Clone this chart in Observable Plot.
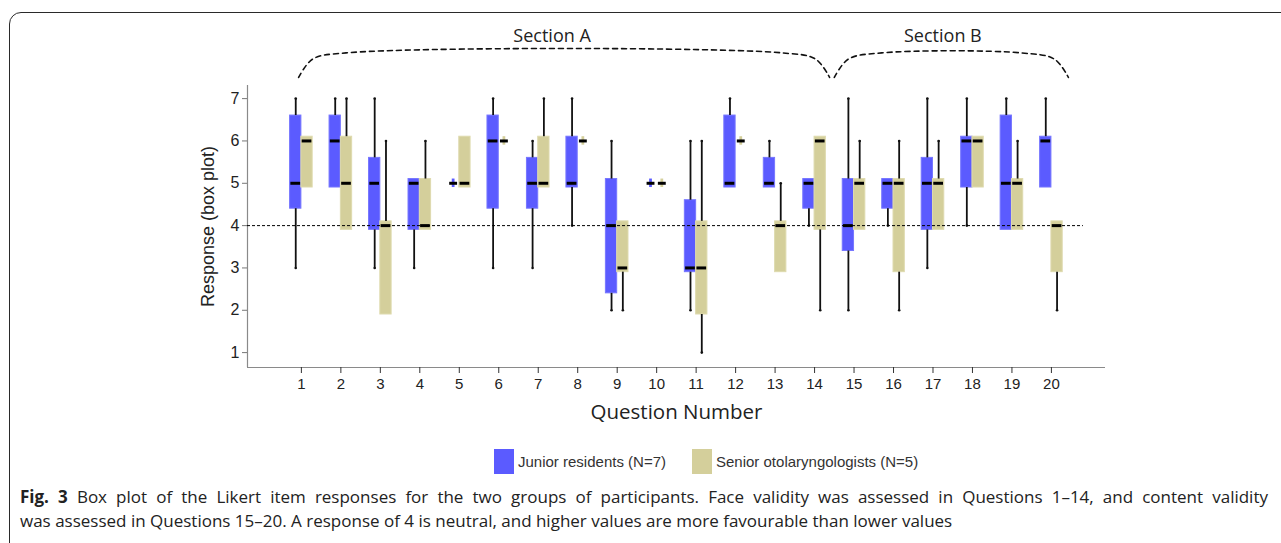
<!DOCTYPE html>
<html>
<head>
<meta charset="utf-8">
<script src="https://cdn.jsdelivr.net/npm/d3@7"></script>
<script src="https://cdn.jsdelivr.net/npm/@observablehq/plot@0.6"></script>
<style>
  html, body { margin: 0; padding: 0; background: #fff; width: 1281px; height: 543px; overflow: hidden; }
  #card { position: absolute; left: 9px; top: 12px; width: 1320px; height: 620px; border: 1.5px solid #2a2a2a; border-radius: 12px; box-sizing: border-box; }
  #chart { position: absolute; left: 0; top: 0; }
  .legend { position: absolute; top: 449px; font-family: "Liberation Sans", Arial, sans-serif; font-size: 15px; color: #333; display: flex; align-items: center; }
  .sw { width: 20px; height: 25px; margin-right: 4px; }
  .cap { position: absolute; left: 20px; font-family: "Open Sans", sans-serif; font-size: 17px; line-height: 23px; color: #222; white-space: nowrap; }
  #cap1 { width: 1248px; text-align: justify; text-align-last: justify; white-space: normal; }
</style>
</head>
<body>
<div id="card"></div>
<div id="chart"></div>
<div class="legend" style="left:494px"><div class="sw" style="background:#5b5bff"></div><span id="lj"></span></div>
<div class="legend" style="left:692px"><div class="sw" style="background:#d4cf9b"></div><span id="ls"></span></div>
<div class="cap" id="cap1" style="top:485px"></div>
<div class="cap" id="cap2" style="top:509px"></div>
<script>
// ---- data ----
const questions = [1,2,3,4,5,6,7,8,9,10,11,12,13,14,15,16,17,18,19,20];
const groups = ["Junior residents (N=7)", "Senior otolaryngologists (N=5)"];
const groupColors = ["#5b5bff", "#d4cf9b"];

const juniorMin = [3,5,3,3,5,3,3,4,2,5,2,5,5,4,2,4,3,4,4,5];
const juniorQ1  = [4.5,5,4,4,5,4.5,4.5,5,2.5,5,3,5,5,4.5,3.5,4.5,4,5,4,5];
const juniorMed = [5,6,5,5,5,6,5,5,4,5,3,5,5,5,4,5,5,6,5,6];
const juniorQ3  = [6.5,6.5,5.5,5,5,6.5,5.5,6,5,5,4.5,6.5,5.5,5,5,5,5.5,6,6.5,6];
const juniorMax = [7,7,7,5,5,7,6,7,6,5,6,7,6,5,7,5,7,7,7,7];

const seniorMin = [5,4,2,4,5,6,5,6,2,5,1,6,3,2,4,2,4,5,4,2];
const seniorQ1  = [5,4,2,4,5,6,5,6,3,5,2,6,3,4,4,3,4,5,4,3];
const seniorMed = [6,5,4,4,5,6,5,6,3,5,3,6,4,6,5,5,5,6,5,4];
const seniorQ3  = [6,6,4,5,6,6,6,6,4,5,4,6,4,6,5,5,5,6,5,4];
const seniorMax = [6,7,6,6,6,6,7,6,4,5,6,6,5,6,6,6,6,6,6,4];

const yTicks = [1,2,3,4,5,6,7];
const neutral = 4;
const sections = [
  {label: "Section A", from: 0.93, to: 14.38, labelX: 7.35},
  {label: "Section B", from: 14.5, to: 20.43, labelX: 17.25}
];
const captionLine1 = "Box plot of the Likert item responses for the two groups of participants. Face validity was assessed in Questions 1\u201314, and content validity";
const captionLine2 = "was assessed in Questions 15\u201320. A response of 4 is neutral, and higher values are more favourable than lower values";

// ---- build table ----
const half = 0.286;   // box width in question units
const pad = 0.1;      // box drawn slightly beyond quartiles (as in the original)
const rows = [];
questions.forEach((q, i) => {
  rows.push({q, g: 0, min: juniorMin[i], q1: juniorQ1[i], med: juniorMed[i], q3: juniorQ3[i], max: juniorMax[i]});
  rows.push({q, g: 1, min: seniorMin[i], q1: seniorQ1[i], med: seniorMed[i], q3: seniorQ3[i], max: seniorMax[i]});
});
rows.forEach(d => {
  d.x1 = d.g === 0 ? d.q - half : d.q;
  d.x2 = d.g === 0 ? d.q : d.q + half;
  d.cx = (d.x1 + d.x2) / 2;
  d.deg = d.q1 === d.q3;
  d.top = d.deg ? d.med + pad : d.q3 + pad;
  d.bot = d.deg ? d.med - pad : d.q1 - pad;
  d.color = groupColors[d.g];
});
const boxes = rows.filter(d => !d.deg);
const degs = rows.filter(d => d.deg);
const upper = rows.filter(d => d.max > d.q3);
const lower = rows.filter(d => d.min < d.q1);

// brace outline points (annotation)
const braceRows = [];
sections.forEach(s => {
  const yEnd = 7.5, yMid = 7.93, yTop = 8.08;
  [[s.from, yEnd], [s.from + 0.35, yMid], [s.from + 1.2, yTop], [s.to - 1.2, yTop], [s.to - 0.35, yMid], [s.to, yEnd]]
    .forEach(([x, y]) => braceRows.push({section: s.label, x, y}));
});

const xDomain = [-0.365, 21.37];
const yDomain = [0.648, 7.31];

const chart = Plot.plot({
  width: 1281,
  height: 440,
  marginLeft: 247,
  marginRight: 176,
  marginTop: 85,
  marginBottom: 73,
  style: {fontFamily: "Liberation Sans, Arial, sans-serif", fontSize: "15px", background: "transparent", overflow: "visible"},
  x: {domain: xDomain, axis: null},
  y: {domain: yDomain, axis: null},
  marks: [
    // axis lines
    Plot.ruleX([xDomain[0]], {y1: yDomain[0], y2: yDomain[1], stroke: "#8a8a8a", strokeWidth: 1.2}),
    Plot.ruleY([yDomain[0]], {x1: xDomain[0], x2: xDomain[1], stroke: "#8a8a8a", strokeWidth: 1.2}),
    Plot.axisY({ticks: yTicks, tickSize: 5, tickPadding: 3, fontSize: 16, stroke: "#777", fill: "#222", label: null, tickFormat: d => d}),
    Plot.axisX({ticks: questions, tickSize: 6, tickPadding: 5, fontSize: 15, stroke: "#333", fill: "#222", label: null, tickFormat: d => d}),
    // boxes
    Plot.rect(boxes, {x1: "x1", x2: "x2", y1: "bot", y2: "top", fill: "color", stroke: d => d.g === 0 ? "#7676ff" : "#dedaae", strokeWidth: 1}),
    Plot.rect(degs, {x1: d => d.cx - 0.035, x2: d => d.cx + 0.035, y1: "bot", y2: "top", fill: "color"}),
    // whiskers
    Plot.ruleX(upper, {x: "cx", y1: "top", y2: "max", stroke: "#111", strokeWidth: 1.8}),
    Plot.ruleX(lower, {x: "cx", y1: "bot", y2: "min", stroke: "#111", strokeWidth: 1.8}),
    Plot.dot(upper, {x: "cx", y: "max", r: 1.3, fill: "#111"}),
    Plot.dot(lower, {x: "cx", y: "min", r: 1.3, fill: "#111"}),
    // medians
    Plot.ruleY(rows, {y: "med", x1: d => d.deg ? d.cx - 0.1 : d.x1 + 0.02, x2: d => d.deg ? d.cx + 0.1 : d.x2 - 0.02, stroke: "#000", strokeWidth: 3}),
    // neutral line
    Plot.ruleY([neutral], {x1: xDomain[0], x2: 20.81, stroke: "#000", strokeWidth: 1, strokeDasharray: "3,2"}),
    // section braces
    Plot.line(braceRows, {x: "x", y: "y", z: "section", curve: "catmull-rom", stroke: "#111", strokeWidth: 1.6, strokeDasharray: "5,4"}),
    Plot.text(sections, {x: "labelX", y: 8.47, text: "label", fontFamily: "Open Sans, sans-serif", fontSize: 18, fill: "#222"}),
    // axis titles
    Plot.text(["Response (box plot)"], {frameAnchor: "left", dx: -39, rotate: -90, textAnchor: "middle", fontSize: 18, fill: "#222"}),
    Plot.text(["Question Number"], {frameAnchor: "bottom", dy: 51, textAnchor: "middle", fontFamily: "Open Sans, sans-serif", fontSize: 20.5, fill: "#222"})
  ]
});
document.getElementById("chart").appendChild(chart);

document.getElementById("lj").textContent = groups[0];
document.getElementById("ls").textContent = groups[1];
const c1 = document.getElementById("cap1");
const b = document.createElement("b"); b.textContent = "Fig. 3"; c1.appendChild(b);
c1.appendChild(document.createTextNode(" " + captionLine1));
document.getElementById("cap2").textContent = captionLine2;
</script>
</body>
</html>
